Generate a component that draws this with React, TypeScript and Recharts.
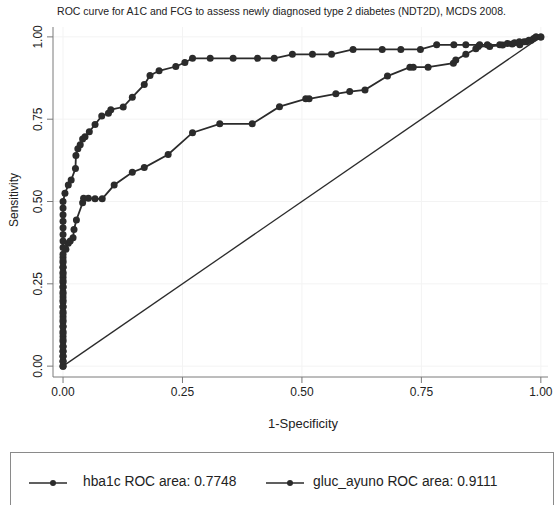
import React from "react";
import {
  ScatterChart, Scatter, XAxis, YAxis, CartesianGrid, Legend,
} from "recharts";

// tick positions shared by both axes
const TICKS = [0, 0.25, 0.5, 0.75, 1];

// hba1c ROC curve (1-specificity, sensitivity), AUC 0.7748
const HBA1C_X = [
  0, 0, 0, 0, 0, 0, 0, 0, 0, 0, 0, 0, 0, 0, 0, 0, 0, 0, 0, 0, 0, 0, 0,
  0.006, 0.011, 0.015, 0.021, 0.023, 0.028, 0.041, 0.043, 0.053, 0.067, 0.082,
  0.107, 0.145, 0.17, 0.22, 0.271, 0.328, 0.396, 0.453, 0.508, 0.515, 0.571,
  0.6, 0.632, 0.679, 0.726, 0.733, 0.764, 0.817, 0.822, 0.843, 0.864, 0.869,
  0.893, 0.92, 0.94, 0.956, 0.97, 0.98, 0.99, 1,
];
const HBA1C_Y = [
  0, 0.015, 0.03, 0.045, 0.06, 0.075, 0.09, 0.105, 0.12, 0.135, 0.15, 0.165,
  0.18, 0.195, 0.21, 0.225, 0.24, 0.255, 0.27, 0.285, 0.3, 0.315, 0.33,
  0.355, 0.373, 0.38, 0.39, 0.415, 0.444, 0.496, 0.51, 0.51, 0.508, 0.508,
  0.55, 0.589, 0.603, 0.643, 0.709, 0.736, 0.736, 0.788, 0.812, 0.812, 0.827,
  0.834, 0.839, 0.881, 0.908, 0.908, 0.908, 0.92, 0.93, 0.947, 0.964, 0.971,
  0.971, 0.975, 0.978, 0.976, 0.985, 0.99, 1, 1,
];

// gluc_ayuno ROC curve, AUC 0.9111
const GLUC_X = [
  0, 0, 0, 0, 0, 0, 0, 0, 0, 0, 0, 0, 0, 0, 0, 0, 0, 0, 0, 0, 0, 0, 0, 0,
  0, 0, 0, 0.004, 0.011, 0.017, 0.026, 0.027, 0.031, 0.036, 0.041, 0.046,
  0.055, 0.067, 0.081, 0.095, 0.1, 0.126, 0.145, 0.17, 0.182, 0.201, 0.236,
  0.255, 0.271, 0.308, 0.356, 0.407, 0.442, 0.48, 0.522, 0.562, 0.607, 0.668,
  0.707, 0.748, 0.782, 0.818, 0.843, 0.872, 0.888, 0.914, 0.93, 0.945, 0.955,
  0.965, 0.975, 0.985, 0.99, 1,
];
const GLUC_Y = [
  0, 0.015, 0.03, 0.045, 0.06, 0.08, 0.1, 0.12, 0.14, 0.16, 0.18, 0.2, 0.22,
  0.24, 0.26, 0.28, 0.3, 0.32, 0.34, 0.36, 0.38, 0.4, 0.42, 0.44, 0.46, 0.48,
  0.5, 0.525, 0.55, 0.565, 0.6, 0.64, 0.66, 0.672, 0.69, 0.697, 0.712, 0.734,
  0.76, 0.768, 0.779, 0.787, 0.817, 0.855, 0.883, 0.897, 0.91, 0.922, 0.935,
  0.935, 0.935, 0.935, 0.935, 0.947, 0.947, 0.947, 0.962, 0.962, 0.962, 0.962,
  0.976, 0.976, 0.976, 0.976, 0.976, 0.976, 0.98, 0.982, 0.985, 0.985, 0.99,
  0.995, 1, 1,
];

// chance line
const DIAG_X = [0, 1];
const DIAG_Y = [0, 1];

const toPoints = (xs: number[], ys: number[]) => xs.map((x, i) => ({ x, y: ys[i] }));

const INK = "#2b2b2b";
const FONT = '"Liberation Sans", Arial, sans-serif';

const Dot = (p: any) => <circle cx={p.cx} cy={p.cy} r={3.5} fill={INK} />;
const NoDot = () => <g />;

const YTick = (p: any) => (
  <text
    x={38}
    y={p.y}
    transform={`rotate(-90 38 ${p.y})`}
    textAnchor="middle"
    dominantBaseline="central"
    fontSize={12}
    fill="#222"
  >
    {Number(p.payload.value).toFixed(2)}
  </text>
);

const LEGEND_ITEMS = [
  { label: "hba1c ROC area: 0.7748", lineLeft: 18, textLeft: 72 },
  { label: "gluc_ayuno ROC area: 0.9111", lineLeft: 255, textLeft: 302 },
];

const LegendBox = () => (
  <div
    style={{
      position: "relative", width: 544, height: 70, boxSizing: "border-box",
      border: "1px solid #8a8a8a", background: "white", fontFamily: FONT,
    }}
  >
    {LEGEND_ITEMS.map((it) => (
      <React.Fragment key={it.label}>
        <svg style={{ position: "absolute", left: it.lineLeft, top: 25 }} width={40} height={10}>
          <line x1={0} y1={5} x2={38} y2={5} stroke={INK} strokeWidth={1.4} />
          <circle cx={24} cy={5} r={3} fill={INK} />
        </svg>
        <span
          style={{
            position: "absolute", left: it.textLeft, top: 21, fontSize: 13.8,
            color: "#222", whiteSpace: "nowrap",
          }}
        >
          {it.label}
        </span>
      </React.Fragment>
    ))}
  </div>
);

export default function App() {
  return (
    <div style={{ position: "absolute", left: 0, top: 0, width: 560, height: 505, background: "white", fontFamily: FONT }}>
      <div
        style={{
          position: "absolute", left: 0, top: 5, width: 563, textAlign: "center",
          fontSize: 10.5, color: "#222", whiteSpace: "nowrap",
        }}
      >
        ROC curve for A1C and FCG to assess newly diagnosed type 2 diabetes (NDT2D), MCDS 2008.
      </div>
      <ScatterChart width={560} height={505} margin={{ top: 27, right: 12, bottom: 0, left: 0 }}>
        <CartesianGrid stroke="#f3f3f3" horizontalValues={TICKS} verticalValues={TICKS} />
        <XAxis
          type="number"
          dataKey="x"
          domain={[-0.021, 1.015]}
          allowDataOverflow
          ticks={TICKS}
          tickFormatter={(v) => Number(v).toFixed(2)}
          height={128}
          stroke="#7a7a7a"
          tickSize={6}
          tickMargin={4}
          tick={{ fontSize: 12, fill: "#222" }}
          label={{
            content: () => (
              <text x={303} y={423} textAnchor="middle" dominantBaseline="central" fontSize={13} fill="#222">
                1-Specificity
              </text>
            ),
          }}
        />
        <YAxis
          type="number"
          dataKey="y"
          domain={[-0.033, 1.03]}
          allowDataOverflow
          ticks={TICKS}
          width={53}
          stroke="#7a7a7a"
          tickSize={6}
          tick={YTick}
          label={{
            content: () => (
              <text
                x={14}
                y={200}
                transform="rotate(-90 14 200)"
                textAnchor="middle"
                dominantBaseline="central"
                fontSize={12}
                fill="#222"
              >
                Sensitivity
              </text>
            ),
          }}
        />
        <Scatter
          data={toPoints(DIAG_X, DIAG_Y)}
          line={{ stroke: INK, strokeWidth: 1.3 }}
          shape={NoDot}
          isAnimationActive={false}
        />
        <Scatter
          name="hba1c ROC area: 0.7748"
          data={toPoints(HBA1C_X, HBA1C_Y)}
          line={{ stroke: INK, strokeWidth: 1.8 }}
          shape={Dot}
          fill={INK}
          isAnimationActive={false}
        />
        <Scatter
          name="gluc_ayuno ROC area: 0.9111"
          data={toPoints(GLUC_X, GLUC_Y)}
          line={{ stroke: INK, strokeWidth: 1.8 }}
          shape={Dot}
          fill={INK}
          isAnimationActive={false}
        />
        <Legend
          layout="horizontal"
          verticalAlign="middle"
          content={() => <LegendBox />}
          wrapperStyle={{ position: "absolute", left: 10, top: 452, width: 544, height: 70 }}
        />
      </ScatterChart>
    </div>
  );
}
